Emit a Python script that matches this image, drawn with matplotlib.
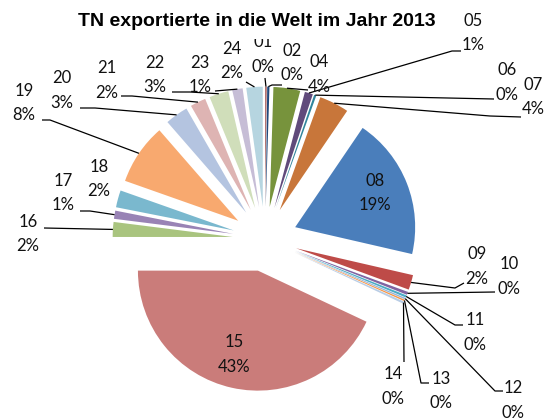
import matplotlib
matplotlib.use('Agg')
import matplotlib.pyplot as plt
from matplotlib.patches import Rectangle
import numpy as np

# ---- data ----
categories = ['01', '02', '04', '05', '06', '07', '08', '09', '10', '11', '12', '13',
              '14', '15', '16', '17', '18', '19', '20', '21', '22', '23', '24']
values = [0.2, 0.3, 3.6, 1.1, 0.3, 4.0, 19.1, 2.0, 0.4, 0.3, 0.2, 0.2,
          0.3, 43.0, 2.0, 1.1, 2.3, 8.2, 3.1, 2.1, 2.6, 1.4, 2.2]
colors = ['#A0504D', '#1F497D', '#77933C', '#604A7B', '#31859C', '#C8763A',
          '#4A7EBB', '#BE4B48', '#8064A2', '#4BACC6', '#95B3D7', '#F79646',
          '#B9CDE5', '#CA7C7A', '#A9C47F', '#9983B5', '#7AB8CE', '#F8A96F',
          '#B4C4E0', '#DEB4B3', '#D0DEBA', '#C6BDD6', '#B6D5E0']
title = 'TN exportierte in die Welt im Jahr 2013'

# ---- layout (pixel positions) ----
W, H = 546, 420
CX, CY = 265, 239
R = 120.0
LINE = 24.5

def P(px, py):
    return ((px - CX) / R, (CY - py) / R)

label_pos = {
    '01': (263, 42), '02': (292, 51), '04': (319, 62), '05': (473, 21),
    '06': (507, 70), '07': (533, 85), '08': (375, 181), '09': (477, 254),
    '10': (509, 264), '11': (475, 320), '12': (513, 388), '13': (441, 379),
    '14': (393, 374), '15': (234, 342), '16': (28, 222), '17': (63, 181),
    '18': (99, 167), '19': (24, 91), '20': (62, 78), '21': (107, 68),
    '22': (155, 63), '23': (200, 63), '24': (232, 49),
}
leaders = {
    '24': [(246, 82)], '01': [(265, 78)], '02': [(282, 85), (272, 85)],
    '04': [(308, 90)], '05': [(461, 51), (452, 51)], '06': [(494, 99)],
    '07': [(521, 117), (490, 116)], '09': [(464, 283), (455, 288)],
    '10': [(495, 292)], '11': [(463, 325), (455, 325)],
    '12': [(503, 391), (495, 391)], '13': [(429, 383), (421, 383)],
    '14': [(404, 362)], '16': [(44, 228)], '17': [(80, 211), (90, 211)],
    '19': [(42, 120), (50, 120)], '20': [(80, 108), (95, 108)],
    '21': [(121, 96), (132, 96)], '22': [(172, 92), (190, 92)],
    '23': [(215, 91)],
}

fig = plt.figure(figsize=(W / 100, H / 100), dpi=100)
ax = fig.add_axes([0, 0, 1, 1])

wedges, _ = ax.pie(values, colors=colors, startangle=90, counterclock=False,
                   radius=1, center=(0, 0), explode=[0.27] * len(values),
                   wedgeprops=dict(linewidth=0))
ax.set_xlim(-CX / R, (W - CX) / R)
ax.set_ylim(-(H - CY) / R, CY / R)
ax.set_aspect('equal')
ax.axis('off')

total = sum(values)
font = ['Lato', 'DejaVu Sans']
for cat, v, w in zip(categories, values, wedges):
    pct = f'{round(v / total * 100):d}%'
    lx, ly = label_pos[cat]
    ax.text(*P(lx, ly), cat, ha='center', va='center', fontsize=12,
            family=font, color='#111111', zorder=5)
    ax.text(*P(lx, ly + LINE), pct, ha='center', va='center', fontsize=12,
            family=font, color='#111111', zorder=5)
    if cat in leaders:
        mid = np.deg2rad((w.theta1 + w.theta2) / 2)
        ax_, ay_ = w.center[0] + w.r * np.cos(mid), w.center[1] + w.r * np.sin(mid)
        pts = [P(*p) for p in leaders[cat]] + [(ax_, ay_)]
        xs, ys = zip(*pts)
        ax.plot(xs, ys, color='black', lw=0.9, zorder=4, solid_capstyle='butt')

# title box (white area that covers what lies beneath the title)
fig.patches.append(Rectangle((70 / W, 1 - 39 / H), 375 / W, 39 / H,
                             transform=fig.transFigure, facecolor='white',
                             edgecolor='none', zorder=2.5))
fig.text(257 / W, 1 - 22 / H, title, ha='center', va='center', fontsize=14,
         fontweight='bold', family=['Liberation Sans', 'DejaVu Sans'],
         color='black', zorder=3)

fig.savefig('out.png', dpi=100)
